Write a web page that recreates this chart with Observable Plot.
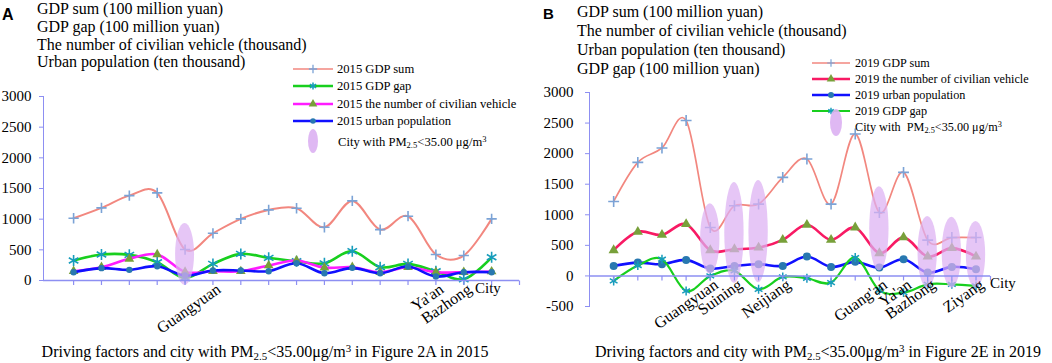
<!DOCTYPE html>
<html>
<head>
<meta charset="utf-8">
<script src="https://cdn.jsdelivr.net/npm/d3@7"></script>
<script src="https://cdn.jsdelivr.net/npm/@observablehq/plot@0.6"></script>
<style>
  body { margin: 0; background: #fff; }
  #wrap { position: relative; width: 1052px; height: 363px; overflow: hidden; background: #fff;
          font-family: "Liberation Serif", "Times New Roman", serif; color: #000; }
  .abs { position: absolute; white-space: nowrap; }
  .panel { position: absolute; top: 0; }
  .panel svg { overflow: visible; }
  .panel svg text { fill: #000; font-family: "Liberation Serif", "Times New Roman", serif; }
  .sub { font-size: 0.68em; vertical-align: -0.28em; line-height: 0; }
  .sup { font-size: 0.68em; vertical-align: 0.5em; line-height: 0; }
  .title { font-size: 16px; }
  .big { font-family: "Liberation Sans", Arial, sans-serif; font-weight: bold; }
  .leg { line-height: 14px; }
  .cap { font-size: 16px; line-height: 16px; text-align: center; }
</style>
</head>
<body>
<div id="wrap"></div>
<script>
// ---------------- data ----------------
const labels2015 = ["", "", "", "", "", "Guangyuan", "", "", "", "", "", "", "", "Ya'an", "Bazhong", ""];
const gdpSum2015  = [1015, 1184, 1384, 1428, 505, 770, 1005, 1151, 1178, 868, 1298, 830, 1048, 423, 407, 1005];
const gdpGap2015  = [326, 423, 418, 298, 40, 271, 434, 369, 314, 280, 478, 217, 271, 150, 20, 378];
const vehicle2015 = [152, 217, 353, 425, 140, 150, 150, 244, 326, 210, 217, 135, 217, 135, 135, 146];
const urban2015   = [135, 201, 174, 233, 81, 163, 163, 152, 282, 119, 206, 119, 228, 65, 135, 135];
const pmCity2015  = [4];
const pmLow2015   = [-80];
const pmHigh2015  = [930];

const labels2019 = ["", "", "", "", "Guangyuan", "Suining", "", "Neijiang", "", "", "", "Guang'an", "Ya'an", "Bazhong", "", "Ziyang"];
const gdpSum2019  = [1218, 1857, 2093, 2541, 792, 1148, 1175, 1612, 1913, 1175, 2322, 1038, 1694, 585, 628, 628];
const vehicle2019 = [421, 721, 672, 847, 421, 437, 464, 590, 836, 590, 792, 372, 630, 317, 454, 317];
const urban2019   = [164, 218, 191, 262, 120, 164, 191, 164, 317, 148, 230, 137, 273, 55, 148, 109];
const gdpGap2019  = [-82, 170, 273, -246, 0, 82, -219, -16, -38, -109, 301, -235, -273, -137, -137, -164];
const pmCity2019  = [4, 5, 6, 11, 13, 14, 15];
const pmLow2019   = [30, -120, -110, 80, -200, -200, -200];
const pmHigh2019  = [1180, 1530, 1560, 1460, 970, 960, 890];

const yTicks2015 = [0, 500, 1000, 1500, 2000, 2500, 3000];
const yTicks2019 = [-500, 0, 500, 1000, 1500, 2000, 2500, 3000];

// ---------------- styles ----------------
const AX = "#8d8ff2";
const ELL = "#dcb0f2";
const C_SUM = "#f2877f", C_PLUS = "#7ba3d6";
const C_GAP = "#18cf1e", C_AST = "#179cbc";
const C_VEH15 = "#ff1cff", C_VEH19 = "#f81a64", C_TRI = "#78a03a";
const C_URB = "#1010ff", C_CIR = "#2878b0";
const FONT = "'Liberation Serif', 'Times New Roman', serif";

const tickMark = { draw(ctx) { ctx.moveTo(0, 0); ctx.lineTo(0, 4.5); } };

function buildPanel(cfg) {
  const idx = d3.range(cfg.series[0].values.length);
  const tickIdx = [...idx, cfg.xDomain[1]];
  const marks = [];
  for (const s of cfg.series) {
    marks.push(Plot.line(idx, {x: i => i, y: i => s.values[i], curve: "cardinal",
      stroke: s.color, strokeWidth: s.width}));
    marks.push(Plot.dot(idx, {x: i => i, y: i => s.values[i], symbol: s.symbol, r: s.r,
      fill: s.fill || "none", stroke: s.stroke || "none", strokeWidth: s.sw || 1}));
  }
  marks.push(Plot.rect(cfg.pmCity.map((c, k) => k), {
    x1: k => cfg.pmCity[k] - cfg.ellHalf, x2: k => cfg.pmCity[k] + cfg.ellHalf,
    y1: k => cfg.pmLow[k], y2: k => cfg.pmHigh[k],
    rx: 60, ry: 400, fill: ELL, fillOpacity: 0.72
  }));
  marks.push(Plot.ruleY([0], {stroke: AX, strokeWidth: 1.4}));
  marks.push(Plot.dot(tickIdx, {x: d => d, y: () => 0, symbol: tickMark, r: 3, stroke: AX, fill: "none", strokeWidth: 1.2}));
  marks.push(Plot.text(idx.filter(i => cfg.labels[i]), {x: i => i, y: () => 0, text: i => cfg.labels[i],
    rotate: -35, textAnchor: "end", dx: 6, dy: 7, fontSize: 16, fill: "#000"}));
  return Plot.plot({
    width: cfg.width, height: 363,
    marginLeft: cfg.mL, marginRight: cfg.mR, marginTop: cfg.mT, marginBottom: cfg.mB,
    x: {type: "linear", domain: cfg.xDomain, axis: null},
    y: {domain: cfg.yDomain, ticks: cfg.yTicks, tickSize: 4, tickPadding: cfg.tickPad, line: true,
        label: null, tickFormat: d => String(d)},
    style: {fontFamily: FONT, fontSize: "15px", color: AX, background: "transparent", overflow: "visible"},
    marks
  });
}

const wrap = document.getElementById("wrap");
function addDiv(cls, left, top, html, extra) {
  const d = document.createElement("div");
  d.className = "abs " + cls;
  d.style.left = left + "px"; d.style.top = top + "px";
  if (extra) Object.assign(d.style, extra);
  d.innerHTML = html;
  wrap.appendChild(d);
  return d;
}

// panels
const left = document.createElement("div"); left.className = "panel"; left.style.left = "0px";
left.appendChild(buildPanel({
  width: 520, mL: 43, mR: 1, mT: 96, mB: 83,
  xDomain: [-1.08, 16], yDomain: [0, 3000], yTicks: yTicks2015, tickPad: 8,
  labels: labels2015, pmCity: pmCity2015, pmLow: pmLow2015, pmHigh: pmHigh2015, ellHalf: 0.34,
  series: [
    {values: gdpSum2015, color: C_SUM, width: 2, symbol: "plus", r: 3.4, stroke: C_PLUS, sw: 1.6},
    {values: gdpGap2015, color: C_GAP, width: 2.6, symbol: "asterisk", r: 5.2, stroke: C_AST, sw: 1.6},
    {values: vehicle2015, color: C_VEH15, width: 2.6, symbol: "triangle", r: 3.6, fill: C_TRI},
    {values: urban2015, color: C_URB, width: 2.6, symbol: "circle", r: 3.2, fill: C_CIR}
  ]
}));
wrap.appendChild(left);

const right = document.createElement("div"); right.className = "panel"; right.style.left = "520px";
right.appendChild(buildPanel({
  width: 532, mL: 69, mR: 62, mT: 92, mB: 57,
  xDomain: [-1, 15.6], yDomain: [-500, 3000], yTicks: yTicks2019, tickPad: 12,
  labels: labels2019, pmCity: pmCity2019, pmLow: pmLow2019, pmHigh: pmHigh2019, ellHalf: 0.4,
  series: [
    {values: gdpSum2019, color: C_SUM, width: 1.7, symbol: "plus", r: 3.6, stroke: C_PLUS, sw: 1.6},
    {values: vehicle2019, color: C_VEH19, width: 2.6, symbol: "triangle", r: 3.8, fill: C_TRI},
    {values: urban2019, color: C_URB, width: 2.6, symbol: "circle", r: 4, fill: C_CIR},
    {values: gdpGap2019, color: C_GAP, width: 2.2, symbol: "asterisk", r: 4.2, stroke: C_AST, sw: 1.5}
  ]
}));
wrap.appendChild(right);

// panel letters and unit titles
addDiv("big", 2, 6.5, "A", {fontSize: "16px", lineHeight: "16px"});
addDiv("big", 543, 6, "B", {fontSize: "15px", lineHeight: "15px"});
addDiv("title", 37, 0, "GDP sum (100 million yuan)<br>GDP gap (100 million yuan)<br>The number of civilian vehicle (thousand)<br>Urban population (ten thousand)", {lineHeight: "17.8px"});
addDiv("title", 577, 1.5, "GDP sum (100 million yuan)<br>The number of civilian vehicle (thousand)<br>Urban population (ten thousand)<br>GDP gap (100 million yuan)", {lineHeight: "19px"});

// axis titles
addDiv("", 475, 280.5, "City", {fontSize: "15px", lineHeight: "15px"});
addDiv("", 990, 275.5, "City", {fontSize: "15px", lineHeight: "15px"});

// legends
const PM = "PM<span class='sub'>2.5</span>&lt;35.00 μg/m<span class='sup'>3</span>";
function legendItem(x0, x1, tx, y, fs, it) {
  const w = x1 - x0;
  const svg = d3.create("svg").attr("width", w).attr("height", 16)
    .style("position", "absolute").style("left", x0 + "px").style("top", (y - 8) + "px").style("overflow", "visible");
  svg.append("line").attr("x1", 0).attr("x2", w).attr("y1", 8).attr("y2", 8)
    .attr("stroke", it.color).attr("stroke-width", it.width);
  const size = Math.PI * it.r * it.r;
  svg.append("path").attr("transform", `translate(${w / 2},8)`)
    .attr("d", d3.symbol(it.sym, size)())
    .attr("fill", it.fill || "none").attr("stroke", it.stroke || "none").attr("stroke-width", it.sw || 1);
  wrap.appendChild(svg.node());
  addDiv("leg", tx, y - 7, it.text, {fontSize: fs + "px"});
}
function legendEllipse(cx, cy, rx, ry, tx, ty, fs, text) {
  const svg = d3.create("svg").attr("width", rx * 2 + 2).attr("height", ry * 2 + 2)
    .style("position", "absolute").style("left", (cx - rx - 1) + "px").style("top", (cy - ry - 1) + "px");
  svg.append("ellipse").attr("cx", rx + 1).attr("cy", ry + 1).attr("rx", rx).attr("ry", ry)
    .attr("fill", ELL).attr("fill-opacity", 0.9);
  wrap.appendChild(svg.node());
  addDiv("leg", tx, ty - 7, text, {fontSize: fs + "px"});
}

const L15 = [
  {y: 69, color: C_SUM, width: 1.6, sym: d3.symbolPlus, r: 2.8, stroke: C_PLUS, sw: 1.3, text: "2015 GDP sum"},
  {y: 86.3, color: C_GAP, width: 2.4, sym: d3.symbolAsterisk, r: 3.4, stroke: C_AST, sw: 1.5, text: "2015 GDP gap"},
  {y: 103.6, color: C_VEH15, width: 2.4, sym: d3.symbolTriangle, r: 3.2, fill: C_TRI, text: "2015 the number of civilian vehicle"},
  {y: 121, color: C_URB, width: 2.4, sym: d3.symbolCircle, r: 2.8, fill: C_CIR, text: "2015 urban population"}
];
L15.forEach(it => legendItem(293, 333, 337, it.y, 12.6, it));
legendEllipse(313, 141, 5, 12, 338, 141.5, 12.6, "City with " + PM);

const L19 = [
  {y: 63.3, color: C_SUM, width: 1.4, sym: d3.symbolPlus, r: 2.6, stroke: C_PLUS, sw: 1.2, text: "2019 GDP sum"},
  {y: 79.3, color: C_VEH19, width: 2.4, sym: d3.symbolTriangle, r: 3.2, fill: C_TRI, text: "2019 the number of civilian vehicle"},
  {y: 95.2, color: C_URB, width: 2.4, sym: d3.symbolCircle, r: 3, fill: C_CIR, text: "2019 urban population"},
  {y: 111, color: C_GAP, width: 2.2, sym: d3.symbolAsterisk, r: 3, stroke: C_AST, sw: 1.4, text: "2019 GDP gap"}
];
L19.forEach(it => legendItem(812, 850, 855, it.y, 12.2, it));
legendEllipse(836, 122, 6, 13.5, 855, 127, 12.2, "City with&nbsp; " + PM);

// captions
addDiv("cap", 0, 344, "Driving factors and city with PM<span class='sub'>2.5</span>&lt;35.00μg/m<span class='sup'>3</span> in Figure 2A in 2015", {width: "530px"});
addDiv("cap", 560, 344, "Driving factors and city with PM<span class='sub'>2.5</span>&lt;35.00μg/m<span class='sup'>3</span> in Figure 2E in 2019", {width: "516px"});
</script>
</body>
</html>
